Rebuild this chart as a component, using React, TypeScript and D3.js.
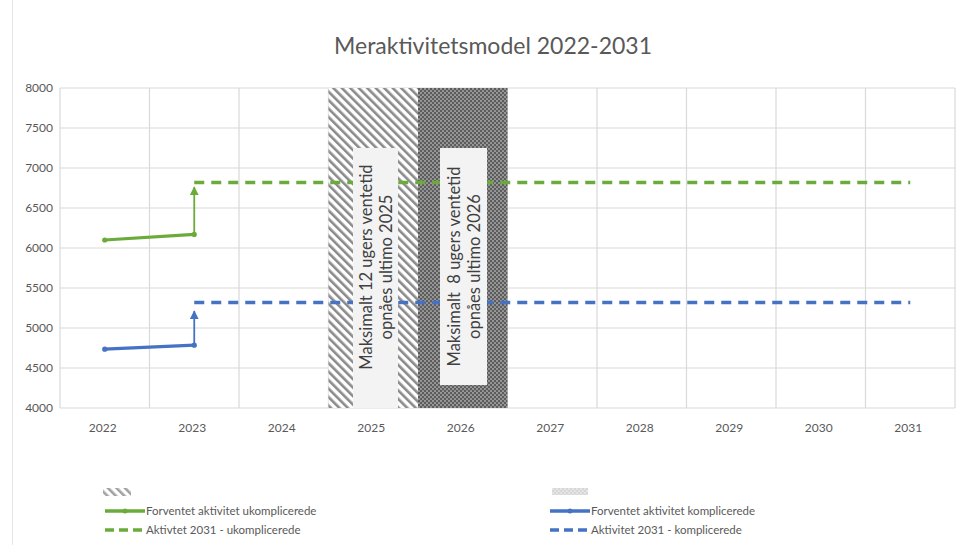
import React, { useEffect, useRef } from 'react';
import * as d3 from 'd3';

const YEARS = ['2022', '2023', '2024', '2025', '2026', '2027', '2028', '2029', '2030', '2031'];
const Y_TICKS = [4000, 4500, 5000, 5500, 6000, 6500, 7000, 7500, 8000];

// expected activity (solid), 2022-2023
const SOLID_YEARS = ['2022', '2023'];
const SOLID_UKOMP = [6100, 6170];
const SOLID_KOMP = [4735, 4785];

// step up in 2023 (arrow)
const ARROW_UKOMP = [6170, 6760];
const ARROW_KOMP = [4785, 5210];

// activity level 2031 (dashed), 2023-2031
const DASH_YEARS = ['2023', '2024', '2025', '2026', '2027', '2028', '2029', '2030', '2031'];
const DASH_UKOMP = [6820, 6820, 6820, 6820, 6820, 6820, 6820, 6820, 6820];
const DASH_KOMP = [5320, 5320, 5320, 5320, 5320, 5320, 5320, 5320, 5320];

const ZONE_YEARS = ['2025', '2026'];
const ZONE_KIND = ['hatch', 'dots'];
const ZONE_RANGE = [4000, 8000];
const ZONE_LINE1 = ['Maksimalt 12 ugers ventetid', 'Maksimalt  8 ugers ventetid'];
const ZONE_LINE2 = ['opnåes ultimo 2025', 'opnåes ultimo 2026'];
const ZONE_BOX_TOP = [8000, 8000 - 0];

const GREEN = '#6aab3a';
const BLUE = '#4472c4';
const FONT = 'Lato, "Open Sans", sans-serif';
const TXT = '#595959';

export default function App() {
  const ref = useRef<SVGSVGElement>(null);

  useEffect(() => {
    const svgEl = ref.current;
    if (!svgEl) return;
    const W = 962;
    const H = 545;
    const margin = { top: 88, right: 7, bottom: 137, left: 60 };
    const width = W - margin.left - margin.right;
    const height = H - margin.top - margin.bottom;

    const svg = d3.select(svgEl).attr('width', W).attr('height', H);
    svg.selectAll('*').remove();

    svg.append('rect').attr('width', W).attr('height', H).attr('fill', '#fff');
    svg.append('line').attr('x1', 12.5).attr('x2', 12.5).attr('y1', 0).attr('y2', H)
      .attr('stroke', '#e6e6e6');

    const defs = svg.append('defs');
    const hatch = defs.append('pattern').attr('id', 'hatch').attr('patternUnits', 'userSpaceOnUse')
      .attr('width', 6).attr('height', 6).attr('patternTransform', 'rotate(-45)');
    hatch.append('rect').attr('width', 6).attr('height', 6).attr('fill', '#fff');
    hatch.append('rect').attr('width', 2.6).attr('height', 6).attr('fill', '#8a8a8a');

    const dots = defs.append('pattern').attr('id', 'dots').attr('patternUnits', 'userSpaceOnUse')
      .attr('width', 4).attr('height', 4);
    dots.append('rect').attr('width', 4).attr('height', 4).attr('fill', '#5c5c5c');
    dots.append('circle').attr('cx', 1).attr('cy', 1).attr('r', 1.1).attr('fill', '#9c9c9c');
    dots.append('circle').attr('cx', 3).attr('cy', 3).attr('r', 1.1).attr('fill', '#9c9c9c');

    const mk = (id: string, color: string) => {
      defs.append('marker').attr('id', id).attr('viewBox', '0 0 10 10').attr('refX', 9).attr('refY', 5)
        .attr('markerWidth', 5).attr('markerHeight', 5).attr('markerUnits', 'strokeWidth')
        .attr('orient', 'auto')
        .append('path').attr('d', 'M0,0 L10,5 L0,10 Z').attr('fill', color);
    };
    mk('arrG', GREEN);
    mk('arrB', BLUE);

    svg.append('text').attr('x', 493).attr('y', 54).attr('text-anchor', 'middle')
      .attr('font-family', FONT).attr('font-size', 23).attr('fill', TXT)
      .text('Meraktivitetsmodel 2022-2031');

    const g = svg.append('g').attr('transform', `translate(${margin.left},${margin.top})`);

    const x = d3.scaleBand().domain(YEARS).range([0, width]).padding(0);
    const y = d3.scaleLinear().domain([4000, 8000]).range([height, 0]);
    const cx = (d: string) => (x(d) ?? 0) + x.bandwidth() / 2;

    // grid
    g.selectAll('line.hg').data(Y_TICKS).join('line').attr('class', 'hg')
      .attr('x1', 0).attr('x2', width).attr('y1', (d) => y(d)).attr('y2', (d) => y(d))
      .attr('stroke', '#d9d9d9').attr('stroke-width', 1.2);
    g.selectAll('line.vg').data(YEARS.concat(['end'])).join('line').attr('class', 'vg')
      .attr('x1', (d, i) => i * x.bandwidth()).attr('x2', (d, i) => i * x.bandwidth())
      .attr('y1', 0).attr('y2', height).attr('stroke', '#d9d9d9').attr('stroke-width', 1.2);

    // shaded zones
    g.selectAll('rect.zone').data(ZONE_YEARS).join('rect').attr('class', 'zone')
      .attr('x', (d) => x(d) ?? 0).attr('width', x.bandwidth())
      .attr('y', y(ZONE_RANGE[1])).attr('height', y(ZONE_RANGE[0]) - y(ZONE_RANGE[1]))
      .attr('fill', (d, i) => `url(#${ZONE_KIND[i]})`);

    // dashed targets
    const lineGen = d3.line<[string, number]>().x((d) => cx(d[0])).y((d) => y(d[1]));
    const dashed = [
      { v: DASH_UKOMP, c: GREEN },
      { v: DASH_KOMP, c: BLUE },
    ];
    dashed.forEach((s) => {
      g.append('path').attr('d', lineGen(DASH_YEARS.map((yr, i) => [yr, s.v[i]] as [string, number])))
        .attr('fill', 'none').attr('stroke', s.c).attr('stroke-width', 3.5)
        .attr('stroke-dasharray', '10 7');
    });

    // solid expected
    const solid = [
      { v: SOLID_UKOMP, c: GREEN },
      { v: SOLID_KOMP, c: BLUE },
    ];
    solid.forEach((s) => {
      g.append('path').attr('d', lineGen(SOLID_YEARS.map((yr, i) => [yr, s.v[i]] as [string, number])))
        .attr('fill', 'none').attr('stroke', s.c).attr('stroke-width', 3.2);
      g.selectAll(null).data(SOLID_YEARS).enter().append('circle')
        .attr('cx', (d) => cx(d)).attr('cy', (d, i) => y(s.v[i])).attr('r', 2.6).attr('fill', s.c);
    });

    // arrows
    const arrows = [
      { v: ARROW_UKOMP, c: GREEN, m: 'arrG' },
      { v: ARROW_KOMP, c: BLUE, m: 'arrB' },
    ];
    arrows.forEach((a) => {
      g.append('line').attr('x1', cx('2023')).attr('x2', cx('2023'))
        .attr('y1', y(a.v[0])).attr('y2', y(a.v[1]))
        .attr('stroke', a.c).attr('stroke-width', 1.8).attr('marker-end', `url(#${a.m})`);
    });

    // text boxes in zones
    const boxX = [353 - margin.left, 440 - margin.left];
    const boxW = [45, 47];
    const boxBottom = [408 - margin.top, 385 - margin.top];
    const boxTop = [148 - margin.top, 148 - margin.top];
    ZONE_YEARS.forEach((yr, i) => {
      g.append('rect').attr('x', boxX[i]).attr('y', boxTop[i]).attr('width', boxW[i])
        .attr('height', boxBottom[i] - boxTop[i]).attr('fill', '#f3f3f3');
      const mx = boxX[i] + boxW[i] / 2;
      const my = (boxTop[i] + (i === 0 ? 386 - margin.top : boxBottom[i])) / 2;
      const t = g.append('text').attr('transform', `translate(${mx},${my}) rotate(-90)`)
        .attr('text-anchor', 'middle').attr('font-family', FONT).attr('font-size', 16.5)
        .attr('fill', '#404040').attr('xml:space', 'preserve');
      t.append('tspan').attr('x', 0).attr('y', -4).text(ZONE_LINE1[i]);
      t.append('tspan').attr('x', 0).attr('y', 16).text(ZONE_LINE2[i]);
    });
    void ZONE_BOX_TOP;

    // axes labels
    g.selectAll('text.yl').data(Y_TICKS).join('text').attr('class', 'yl')
      .attr('x', -7).attr('y', (d) => y(d)).attr('dy', '0.35em').attr('text-anchor', 'end')
      .attr('font-family', FONT).attr('font-size', 12).attr('fill', TXT).text((d) => d);
    g.selectAll('text.xl').data(YEARS).join('text').attr('class', 'xl')
      .attr('x', (d) => cx(d) - 2).attr('y', height + 24).attr('text-anchor', 'middle')
      .attr('font-family', FONT).attr('font-size', 12).attr('fill', TXT).text((d) => d);

    // legend
    const lg = svg.append('g');
    lg.append('rect').attr('x', 103).attr('y', 488).attr('width', 28).attr('height', 8)
      .attr('fill', 'url(#hatch)').attr('opacity', 0.8);
    lg.append('rect').attr('x', 552).attr('y', 488).attr('width', 36).attr('height', 7)
      .attr('fill', 'url(#dots)').attr('opacity', 0.25);
    const items = [
      { x: 105, y: 511, c: GREEN, dash: false, label: 'Forventet aktivitet ukomplicerede' },
      { x: 105, y: 530, c: GREEN, dash: true, label: 'Aktivtet 2031 - ukomplicerede' },
      { x: 550, y: 511, c: BLUE, dash: false, label: 'Forventet aktivitet komplicerede' },
      { x: 550, y: 530, c: BLUE, dash: true, label: 'Aktivitet 2031 - komplicerede' },
    ];
    items.forEach((it) => {
      lg.append('line').attr('x1', it.x).attr('x2', it.x + 40).attr('y1', it.y).attr('y2', it.y)
        .attr('stroke', it.c).attr('stroke-width', 3.5)
        .attr('stroke-dasharray', it.dash ? '9 5' : null);
      if (!it.dash) {
        lg.append('circle').attr('cx', it.x + 20).attr('cy', it.y).attr('r', 2.5).attr('fill', it.c);
      }
      lg.append('text').attr('x', it.x + 41).attr('y', it.y).attr('dy', '0.35em')
        .attr('font-family', FONT).attr('font-size', 11.5).attr('fill', TXT).text(it.label);
    });
  }, []);

  return (
    <svg
      ref={ref}
      style={{ position: 'fixed', left: 0, top: 0, display: 'block' }}
      aria-label="Meraktivitetsmodel 2022-2031"
    />
  );
}
